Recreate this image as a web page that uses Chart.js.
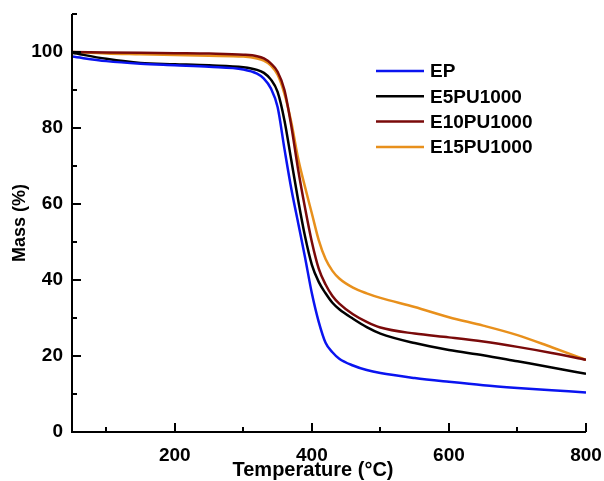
<!DOCTYPE html>
<html>
<head>
<meta charset="utf-8">
<script src="https://cdn.jsdelivr.net/npm/chart.js@4/dist/chart.umd.min.js"></script>
<style>
  html, body { margin: 0; padding: 0; background: #fff; }
  #wrap { width: 604px; height: 481px; }
</style>
</head>
<body>
<div id="wrap"><canvas id="graph" width="604" height="481"></canvas></div>
<script>
// temperature (°C) sample points
const temps = [50, 100, 150, 200, 250, 300, 320, 330, 340, 350, 360, 370, 380, 390, 400,
               410, 420, 430, 440, 460, 480, 500, 550, 600, 650, 700, 750, 800];

const massEP     = [98.8, 97.6, 96.9, 96.5, 96.1, 95.4, 94.3, 93.0, 90.5, 85.5, 74.5, 64.0, 55.0, 46.0, 36.5,
                    29.0, 23.5, 21.0, 19.3, 17.5, 16.3, 15.5, 14.2, 13.2, 12.3, 11.6, 11.0, 10.4];
const massE5     = [99.8, 98.2, 97.1, 96.8, 96.5, 96.0, 95.3, 94.5, 92.8, 89.5, 82.0, 71.5, 61.0, 51.5, 44.0,
                    39.5, 36.5, 34.0, 32.3, 29.8, 27.6, 25.9, 23.4, 21.6, 20.2, 18.6, 17.0, 15.3];
const massE10    = [100.0, 99.9, 99.8, 99.7, 99.6, 99.3, 98.9, 98.3, 97.0, 94.8, 90.0, 80.5, 69.0, 59.0, 50.0,
                    43.0, 38.8, 35.8, 33.8, 31.0, 29.0, 27.5, 25.9, 24.9, 23.8, 22.4, 20.8, 19.0];
const massE15    = [100.0, 99.6, 99.4, 99.2, 99.0, 98.8, 98.3, 97.7, 96.5, 94.0, 89.0, 81.5, 72.0, 64.5, 57.5,
                    50.5, 45.5, 42.4, 40.4, 38.0, 36.5, 35.3, 32.9, 30.2, 28.0, 25.5, 22.3, 19.0];

const seriesLabels = ["EP", "E5PU1000", "E10PU1000", "E15PU1000"];
const seriesColors = ["#0a14f0", "#000000", "#7a0a0a", "#e8901c"];
const seriesMass = [massEP, massE5, massE10, massE15];

const xTicks = [100, 200, 300, 400, 500, 600, 700, 800];
const yTicks = [0, 10, 20, 30, 40, 50, 60, 70, 80, 90, 100, 110];
const xTitle = 'Temperature (\u00B0C)';

const boldFont = "'Liberation Sans', Arial, sans-serif";

// axes lines + inward ticks (major long, minor short) + x title + legend box
const axesPlugin = {
    id: 'axesAndLegend',
    afterDraw: function(chart) {
        const ctx = chart.ctx;
        const area = chart.chartArea;
        const xs = chart.scales.x, ys = chart.scales.y;
        ctx.save();
        ctx.strokeStyle = '#000';
        ctx.lineWidth = 2;
        ctx.beginPath();
        ctx.moveTo(area.left, area.top);
        ctx.lineTo(area.left, area.bottom);
        ctx.lineTo(area.right, area.bottom);
        ctx.stroke();

        ctx.beginPath();
        xTicks.forEach(v => {
            const px = Math.round(xs.getPixelForValue(v));
            const len = (v % 200 === 0) ? 9 : 5;
            ctx.moveTo(px, area.bottom);
            ctx.lineTo(px, area.bottom - len);
        });
        yTicks.forEach(v => {
            const py = Math.round(ys.getPixelForValue(v));
            const len = (v % 20 === 0) ? 9 : 5;
            ctx.moveTo(area.left, py);
            ctx.lineTo(area.left + len, py);
        });
        ctx.stroke();

        // x title sits a little left of the plot centre in the original
        ctx.fillStyle = '#000';
        ctx.font = "bold 20px " + boldFont;
        ctx.textAlign = 'center';
        ctx.textBaseline = 'middle';
        ctx.fillText(xTitle, (area.left + area.right) / 2 - 16, area.bottom + 38);

        // legend, inside the plot at the upper right
        const lx = area.left + 304, ly = area.top + 57;
        ctx.font = "bold 19px " + boldFont;
        ctx.textAlign = 'left';
        chart.data.datasets.forEach((ds, i) => {
            const y = ly + i * 25.3;
            ctx.strokeStyle = ds.borderColor;
            ctx.lineWidth = 2.5;
            ctx.beginPath();
            ctx.moveTo(lx, y);
            ctx.lineTo(lx + 48, y);
            ctx.stroke();
            ctx.fillText(ds.label, lx + 54, y + 1);
        });
        ctx.restore();
    }
};

const datasets = seriesLabels.map((label, i) => ({
    label: label,
    data: temps.map((t, j) => ({ x: t, y: seriesMass[i][j] })),
    borderColor: seriesColors[i],
    backgroundColor: seriesColors[i],
    borderWidth: 2.5,
    pointRadius: 0,
    cubicInterpolationMode: 'monotone',
    fill: false
}));

new Chart(document.getElementById('graph'), {
    type: 'line',
    data: { datasets: datasets },
    plugins: [axesPlugin],
    options: {
        responsive: false,
        animation: false,
        layout: { padding: { top: 14, right: 18, left: 0, bottom: 0 } },
        plugins: {
            legend: { display: false },
            tooltip: { enabled: false }
        },
        scales: {
            x: {
                type: 'linear',
                min: 50,
                max: 800,
                afterFit: s => { s.height = 49; s.paddingLeft = 0; s.paddingRight = 0; },
                afterBuildTicks: s => { s.ticks = xTicks.map(v => ({ value: v })); },
                grid: { display: false, drawTicks: false },
                border: { display: false },
                ticks: {
                    autoSkip: false,
                    maxRotation: 0,
                    padding: 12,
                    color: '#000',
                    font: { family: boldFont, size: 19, weight: 'bold' },
                    callback: v => (v % 200 === 0 ? String(v) : '')
                },
                title: { display: false }
            },
            y: {
                type: 'linear',
                min: 0,
                max: 110,
                afterFit: s => { s.width = 72; s.paddingTop = 0; s.paddingBottom = 0; },
                afterBuildTicks: s => { s.ticks = yTicks.map(v => ({ value: v })); },
                grid: { display: false, drawTicks: false },
                border: { display: false },
                ticks: {
                    autoSkip: false,
                    padding: 9,
                    color: '#000',
                    font: { family: boldFont, size: 19, weight: 'bold' },
                    callback: v => (v % 20 === 0 && v <= 100 ? String(v) : '')
                },
                title: {
                    display: true,
                    text: 'Mass (%)',
                    color: '#000',
                    padding: { top: 9, bottom: 0 },
                    font: { family: boldFont, size: 18, weight: 'bold' }
                }
            }
        }
    }
});
</script>
</body>
</html>
